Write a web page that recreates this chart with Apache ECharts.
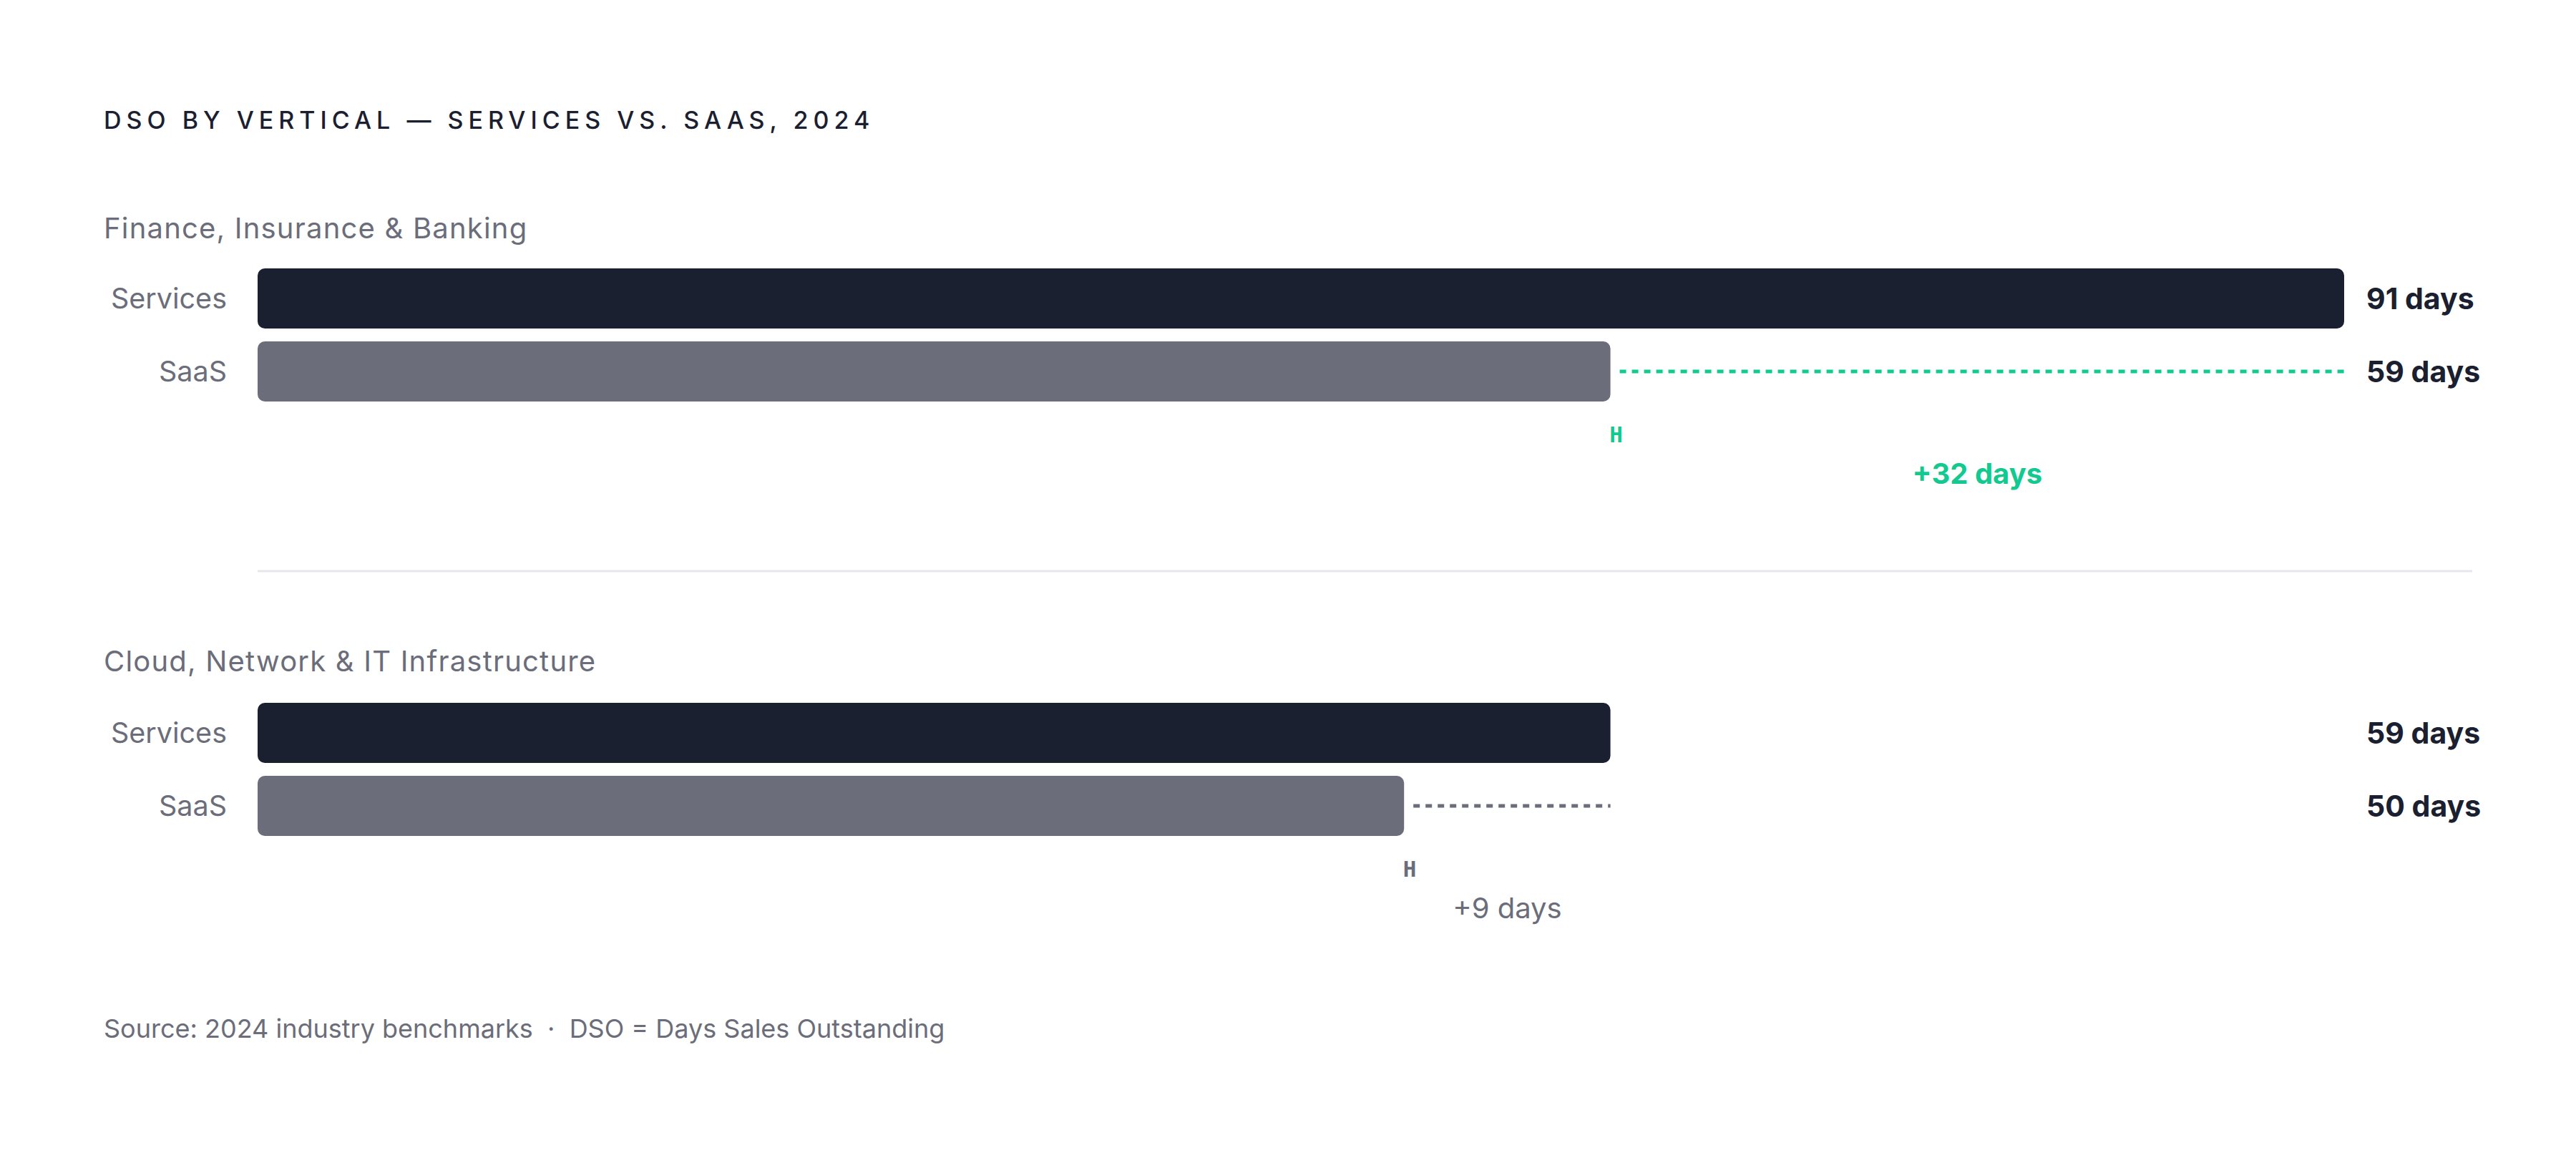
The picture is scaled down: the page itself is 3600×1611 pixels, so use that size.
<!DOCTYPE html>
<html>
<head>
<meta charset="utf-8">
<script src="https://cdn.jsdelivr.net/npm/echarts@6/dist/echarts.min.js"></script>
<style>
html,body{margin:0;padding:0;background:#ffffff;}
#chart{width:3600px;height:1611px;}
</style>
</head>
<body>
<div id="chart"></div>
<script>
// ---- data ----
const TITLE = 'DSO BY VERTICAL — SERVICES VS. SAAS, 2024';
const FOOTNOTE = 'Source: 2024 industry benchmarks \u00a0·\u00a0 DSO = Days Sales Outstanding';
const GROUPS = ['Finance, Insurance & Banking', 'Cloud, Network & IT Infrastructure'];
const ROWS = ['Services', 'SaaS'];
const SERVICES_DSO = [91, 59];
const SAAS_DSO = [59, 50];
const UNIT = 'days';

// ---- styles ----
const DARK = '#1b2030';
const GREY = '#6b6d7a';
const GREEN = '#12c990';
const FONT = 'Inter, "Noto Sans", sans-serif';

// ---- layout ----
const LEFT = 360, RIGHT = 324;
const GROUP_TOP = [366, 973];
const GROUP_H = 204;
const HEAD_OFFSET = [48, 50];

const gaps = SERVICES_DSO.map((s, i) => s - SAAS_DSO[i]);
const HIGHLIGHT = gaps.indexOf(Math.max(...gaps));
const XMAX = Math.max(...SERVICES_DSO, ...SAAS_DSO);

const grid = [], xAxis = [], yAxis = [], series = [], graphic = [];

GROUPS.forEach((g, gi) => {
  grid.push({left: LEFT, right: RIGHT, top: GROUP_TOP[gi], height: GROUP_H, containLabel: false});
  xAxis.push({type: 'value', gridIndex: gi, min: 0, max: XMAX, show: false});
  yAxis.push({
    type: 'category', gridIndex: gi, data: ROWS, inverse: true, position: 'left',
    axisLine: {show: false}, axisTick: {show: false}, splitLine: {show: false},
    axisLabel: {color: GREY, fontSize: 39.5, fontFamily: FONT, margin: 43}
  });
  const vals = [SERVICES_DSO[gi], SAAS_DSO[gi]];
  yAxis.push({
    type: 'category', gridIndex: gi, data: vals.map(v => v + ' ' + UNIT), inverse: true, position: 'right',
    axisLine: {show: false}, axisTick: {show: false}, splitLine: {show: false},
    axisLabel: {color: DARK, fontSize: 41, fontWeight: 700, fontFamily: FONT, margin: 31, align: 'left'}
  });
  series.push({
    type: 'bar', xAxisIndex: gi, yAxisIndex: gi * 2, barWidth: 84, silent: true,
    data: [
      {value: SERVICES_DSO[gi], itemStyle: {color: DARK, borderRadius: 10}},
      {value: SAAS_DSO[gi], itemStyle: {color: GREY, borderRadius: 10}}
    ]
  });
  series.push({
    type: 'custom', xAxisIndex: gi, yAxisIndex: gi * 2, silent: true,
    encode: {x: [0, 1], y: 2},
    data: [[SAAS_DSO[gi], SERVICES_DSO[gi], 1]],
    renderItem: function (params, api) {
      const lo = api.value(0), hi = api.value(1);
      const p0 = api.coord([lo, 1]);
      const p1 = api.coord([hi, 1]);
      const y = p0[1];
      const hl = gi === HIGHLIGHT;
      const col = hl ? GREEN : GREY;
      return {
        type: 'group',
        children: [
          {type: 'line', shape: {x1: p0[0] + 13, y1: y, x2: p1[0], y2: y},
           style: {stroke: col, lineWidth: 5, lineDash: [9, 8]}},
          {type: 'text', x: p0[0] + 8, y: y + 88,
           style: {text: 'H', fill: col, fontSize: 31, fontWeight: 700, fontFamily: '"DejaVu Sans Mono", monospace',
                   align: 'center', verticalAlign: 'middle'}},
          {type: 'text', x: (p0[0] + p1[0]) / 2, y: y + 142,
           style: {text: '+' + (hi - lo) + ' ' + UNIT, fill: col, fontSize: 40,
                   fontWeight: hl ? 700 : 400, fontFamily: FONT,
                   align: 'center', verticalAlign: 'middle'}}
        ]
      };
    }
  });
  graphic.push({
    type: 'text', left: 145, top: GROUP_TOP[gi] - HEAD_OFFSET[gi] - 20,
    style: {text: g, fill: GREY, fontSize: 40, fontFamily: FONT}
  });
});

graphic.push({
  type: 'text', left: 145, top: 167 - 17,
  style: {text: TITLE, fill: DARK, fontSize: 34, fontWeight: 500, fontFamily: FONT}
});
graphic.push({
  type: 'line', shape: {x1: 360, y1: 798, x2: 3455, y2: 798},
  style: {stroke: '#e6e7ea', lineWidth: 3}
});
graphic.push({
  type: 'text', left: 145, top: 1437 - 18,
  style: {text: FOOTNOTE, fill: GREY, fontSize: 36, fontFamily: FONT}
});

const chart = echarts.init(document.getElementById('chart'), null, {renderer: 'svg'});
chart.setOption({
  animation: false,
  backgroundColor: '#ffffff',
  grid, xAxis, yAxis, series, graphic
});

function spaceText() {
  const texts = document.querySelectorAll('#chart svg text');
  texts.forEach(t => {
    const s = t.textContent;
    if (s === TITLE) t.style.letterSpacing = '7px';
    else if (GROUPS.indexOf(s) >= 0) t.style.letterSpacing = '1.2px';
  });
}
spaceText();
chart.on('finished', spaceText);
setTimeout(spaceText, 50);
</script>
</body>
</html>
